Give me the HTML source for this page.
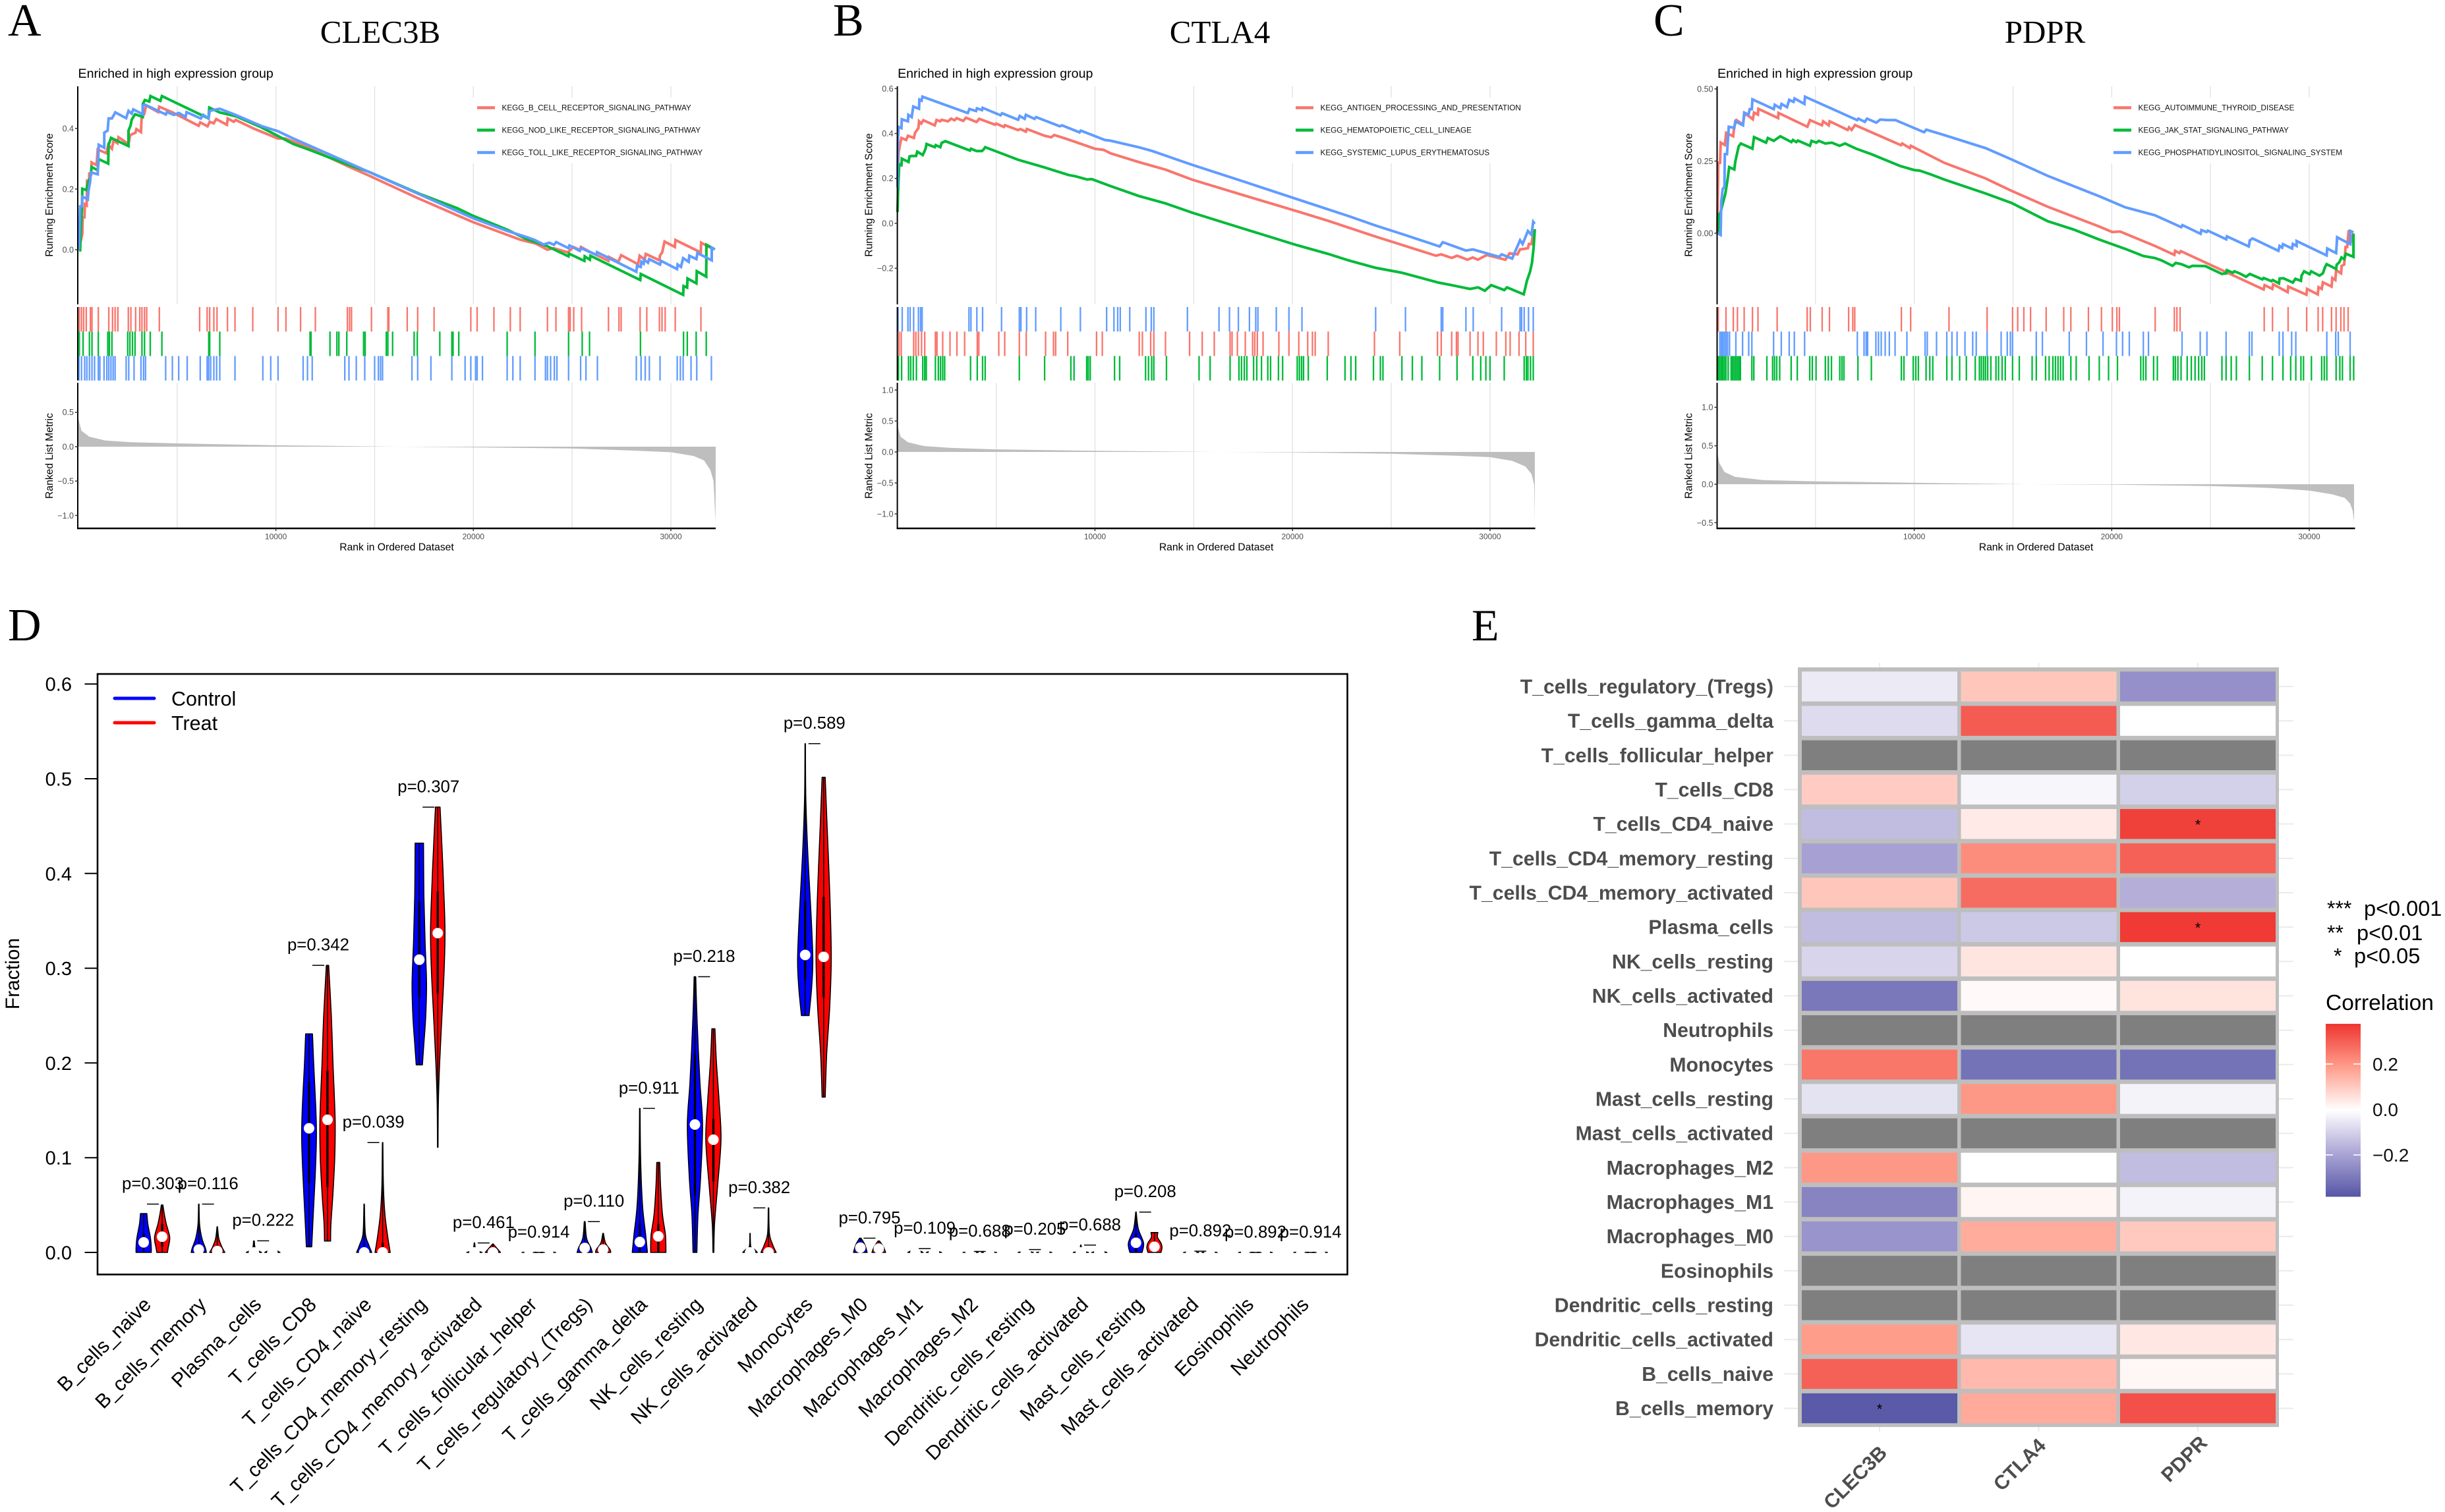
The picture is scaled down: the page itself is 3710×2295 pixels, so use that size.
<!DOCTYPE html>
<html lang="en">
<head>
<meta charset="utf-8">
<title>GSEA, immune cell violin plot and correlation heatmap</title>
<style>
html,body{margin:0;padding:0;background:#fff;}
svg{display:block;font-family:"Liberation Sans",Arial,sans-serif;}
.serif{font-family:"Liberation Serif","Times New Roman",serif;fill:#000;}
</style>
</head>
<body>
<svg id="figure" xmlns="http://www.w3.org/2000/svg" width="3710" height="2295" viewBox="0 0 3710 2295">
  <rect x="0" y="0" width="3710" height="2295" fill="#fff"/>
  <defs>
    <linearGradient id="corrGradient" x1="0" y1="0" x2="0" y2="1">
      <stop offset="0" stop-color="#ee3530"/>
      <stop offset="0.25" stop-color="#ff9d8b"/>
      <stop offset="0.5" stop-color="#ffffff"/>
      <stop offset="0.75" stop-color="#aba5d5"/>
      <stop offset="1" stop-color="#5656a6"/>
    </linearGradient>
  </defs>
  <text class="serif" x="12" y="54" font-size="70">A</text>
  <text class="serif" x="1264" y="54" font-size="70">B</text>
  <text class="serif" x="2509" y="54" font-size="70">C</text>
  <text class="serif" x="12" y="972" font-size="70">D</text>
  <text class="serif" x="2233" y="972" font-size="68">E</text>
  <text class="serif" x="577" y="65" font-size="49" text-anchor="middle">CLEC3B</text>
  <text class="serif" x="1851" y="65" font-size="49" text-anchor="middle">CTLA4</text>
  <text class="serif" x="3103" y="65" font-size="49" text-anchor="middle">PDPR</text>
  <g id="gsea"></g>
  <g id="violin"></g>
  <g id="heat"></g>
</svg>
<script>
/* ---------- GSEA data: [rank, running enrichment score] ---------- */
const esA1=[[20,0],[200,.052],[220,.107],[310,.107],[330,.15],[420,.146],[440,.226],[530,.222],[560,.255],[640,.244],[670,.288],[920,.279],[980,.331],[1420,.318],[1510,.346],[1700,.333],[1780,.36],[1980,.351],[2030,.371],[2540,.349],[2620,.378],[2890,.386],[2940,.398],[3170,.388],[3200,.433],[3340,.449],[3430,.476],[4040,.454],[4090,.472],[4760,.453],[6090,.409],[6170,.42],[6540,.407],[6650,.422],[6850,.417],[6980,.431],[7520,.412],[7560,.433],[7870,.422],[7960,.428],[8870,.4],[10100,.367],[10490,.367],[10880,.357],[11730,.335],[11990,.326],[13590,.277],[14660,.246],[17320,.166],[19980,.091],[22370,.033],[23170,.02],[23750,0],[24060,.005],[24780,-.009],[24890,-.002],[25060,.009],[25390,-.001],[25450,.009],[25950,-.009],[26840,-.037],[26860,-.024],[27340,-.04],[27480,-.018],[28340,-.048],[28420,-.02],[28670,-.033],[28730,-.014],[29420,-.035],[29450,-.019],[29560,-.009],[29680,.027],[30200,.009],[30230,.032],[31510,-.009],[31530,.023],[31790,.014],[32180,.001]];
const esA2=[[90,-.006],[110,.049],[180,.136],[200,.201],[400,.197],[530,.23],[600,.233],[670,.273],[980,.262],[1030,.299],[1510,.284],[1530,.346],[1650,.369],[2540,.342],[2540,.393],[2650,.411],[2700,.429],[2870,.447],[3260,.438],[3260,.48],[3370,.494],[3590,.489],[3650,.507],[4150,.491],[4230,.507],[6150,.447],[6590,.433],[6630,.469],[7150,.453],[7980,.44],[9260,.404],[10880,.349],[11730,.329],[13590,.282],[14660,.258],[17320,.183],[19180,.137],[19980,.112],[21710,.066],[22725,.034],[23725,.012],[24815,-.022],[24840,-.013],[25620,-.037],[25640,-.022],[25895,-.033],[25930,-.02],[28450,-.1],[28475,-.08],[30620,-.149],[30640,-.12],[30820,-.125],[30840,-.095],[31290,-.111],[31310,-.071],[31790,-.089],[31800,.016],[32010,.009],[32230,.001]];
const esA3=[[30,.001],[90,.143],[180,.143],[200,.175],[480,.166],[510,.193],[590,.222],[640,.255],[980,.249],[1030,.346],[1310,.336],[1310,.386],[1480,.393],[1530,.433],[1700,.433],[1870,.453],[2420,.434],[2540,.458],[2700,.449],[2780,.463],[3260,.447],[3260,.476],[3390,.478],[4430,.446],[4480,.454],[4840,.445],[5090,.451],[5430,.438],[5480,.454],[6200,.433],[6320,.445],[6590,.433],[6650,.458],[7150,.465],[7870,.447],[9320,.407],[10100,.391],[10880,.367],[12000,.335],[13590,.289],[14660,.258],[17320,.181],[19980,.104],[21710,.062],[22725,.041],[23110,.032],[23560,.017],[23840,.023],[24080,.016],[24190,.025],[24815,.005],[24860,.014],[25390,-.004],[25450,.005],[26230,-.017],[26260,-.008],[28250,-.073],[28285,-.053],[28475,-.057],[28510,-.04],[28620,-.046],[28650,-.033],[28840,-.043],[28900,-.031],[29450,-.049],[29510,-.037],[30310,-.064],[30340,-.049],[30510,-.057],[30620,-.028],[30900,-.04],[30930,-.02],[31290,-.031],[31340,-.011],[32070,-.035],[32070,.007],[32230,.001]];
const esB1=[[0,.2],[60,.317],[130,.351],[200,.38],[440,.371],[530,.39],[830,.38],[890,.403],[1060,.424],[1090,.454],[1200,.444],[1310,.459],[1890,.436],[1980,.46],[2170,.454],[2240,.461],[2560,.454],[2720,.466],[2890,.459],[3000,.468],[3330,.456],[3470,.47],[4000,.451],[4140,.465],[4940,.439],[5000,.444],[5390,.429],[5440,.437],[6110,.415],[6220,.42],[6500,.408],[6550,.42],[7440,.39],[7780,.383],[7940,.393],[8560,.376],[10000,.332],[10440,.327],[10780,.312],[12240,.272],[13570,.239],[14900,.195],[17560,.124],[20220,.054],[21810,.011],[24210,-.059],[25400,-.092],[27260,-.144],[27530,-.138],[28060,-.154],[28330,-.144],[28860,-.162],[29130,-.152],[29390,-.162],[29660,-.149],[29840,-.141],[30780,-.162],[30990,-.133],[31390,-.138],[31520,-.116],[31920,-.111],[31970,-.092],[32100,-.092],[32190,-.043],[32270,-.034]];
const esB2=[[0,.05],[30,.141],[90,.263],[200,.259],[220,.288],[560,.273],[610,.298],[720,.3],[940,.3],[1000,.319],[1280,.304],[1420,.332],[1470,.353],[1890,.339],[1940,.348],[2170,.339],[2240,.358],[2420,.366],[3670,.324],[3720,.332],[4000,.322],[4280,.322],[4390,.332],[4440,.339],[6110,.283],[7440,.249],[8670,.215],[9000,.21],[9610,.195],[9830,.197],[10780,.166],[12240,.121],[13570,.089],[14900,.048],[17560,-.025],[20220,-.097],[21810,-.136],[22880,-.166],[24210,-.198],[25540,-.22],[27400,-.264],[28060,-.275],[28990,-.292],[29400,-.285],[29740,-.3],[30060,-.275],[30720,-.297],[30860,-.285],[31710,-.316],[31870,-.256],[32030,-.215],[32130,-.174],[32210,-.108],[32270,-.026]];
const esB3=[[0,.16],[20,.366],[60,.429],[200,.424],[220,.463],[530,.454],[550,.483],[720,.473],[800,.52],[1090,.51],[1110,.551],[1220,.546],[1260,.564],[3560,.491],[3640,.509],[3980,.5],[4020,.512],[4280,.504],[4310,.514],[5220,.481],[5300,.49],[6110,.461],[6190,.478],[6440,.465],[6500,.483],[6940,.465],[7020,.473],[8220,.432],[8330,.436],[9220,.405],[9280,.413],[10500,.371],[10780,.368],[12240,.338],[12900,.322],[14900,.261],[17560,.185],[20220,.108],[22880,.031],[24210,-.01],[25670,-.051],[27450,-.103],[27610,-.084],[28780,-.121],[29130,-.116],[30460,-.149],[30590,-.138],[31120,-.157],[31520,-.075],[31650,-.092],[31920,-.034],[32100,-.051],[32190,.007],[32270,-.002]];
const esC1=[[30,0],[80,.244],[170,.244],[200,.314],[410,.306],[480,.348],[830,.336],[890,.37],[1000,.392],[1330,.377],[1390,.407],[1500,.412],[1830,.395],[1890,.418],[2090,.411],[2110,.431],[3110,.399],[3130,.417],[4590,.369],[4720,.392],[5330,.374],[5390,.388],[5670,.374],[5720,.388],[6630,.358],[6700,.367],[6830,.358],[7000,.375],[9330,.305],[9390,.311],[9780,.295],[9830,.303],[10830,.268],[11520,.244],[13610,.19],[14920,.147],[16750,.092],[19370,.023],[20030,.004],[20420,.006],[22190,-.044],[23170,-.075],[23210,-.061],[23430,-.069],[23500,-.062],[27690,-.195],[27740,-.18],[28130,-.193],[28170,-.177],[28910,-.204],[28940,-.185],[29860,-.213],[29890,-.193],[30430,-.212],[30470,-.187],[30630,-.193],[30690,-.17],[31130,-.185],[31170,-.155],[31320,-.162],[31360,-.128],[31610,-.139],[31640,-.113],[31770,-.109],[31840,-.048],[31920,-.048],[32000,.011],[32080,-.037],[32240,0]];
const esC2=[[60,0],[110,.07],[160,.062],[280,.096],[440,.138],[560,.191],[630,.229],[890,.221],[940,.248],[1110,.301],[1220,.311],[1810,.293],[1890,.333],[2500,.314],[2590,.33],[2890,.32],[3220,.336],[3780,.316],[3860,.323],[4030,.316],[4110,.321],[4720,.303],[4800,.32],[5050,.314],[5170,.32],[5500,.311],[5830,.314],[6220,.303],[6500,.311],[7060,.293],[7830,.274],[9280,.233],[10000,.219],[10280,.217],[10830,.204],[11520,.186],[13610,.138],[14920,.105],[16750,.042],[18060,.013],[19370,-.022],[20680,-.054],[21600,-.079],[22190,-.086],[22520,-.094],[23080,-.113],[23240,-.103],[23520,-.107],[23910,-.118],[24080,-.113],[24740,-.114],[25580,-.141],[25800,-.139],[25830,-.128],[26130,-.137],[26210,-.132],[26470,-.139],[26800,-.151],[26990,-.141],[27630,-.16],[27690,-.155],[28080,-.166],[28150,-.162],[28470,-.174],[28500,-.157],[28690,-.156],[29170,-.171],[29300,-.158],[29580,-.165],[29610,-.147],[29740,-.132],[30020,-.142],[30100,-.132],[30520,-.147],[30690,-.139],[30800,-.117],[30880,-.107],[31360,-.124],[31390,-.109],[31520,-.101],[31630,-.084],[31770,-.09],[31860,-.071],[32240,-.082],[32240,-.002]];
const esC3=[[60,0],[200,-.006],[230,.108],[300,.153],[390,.161],[410,.274],[520,.274],[610,.369],[890,.365],[940,.388],[1330,.374],[1390,.418],[1610,.411],[1670,.43],[1780,.43],[1810,.464],[2890,.43],[2940,.445],[3220,.433],[3280,.448],[3560,.437],[3670,.462],[3890,.455],[3940,.467],[4440,.448],[4470,.473],[7110,.392],[7170,.397],[7500,.386],[7610,.397],[8080,.383],[8280,.394],[8610,.392],[9050,.392],[9670,.374],[10500,.35],[10610,.359],[11520,.34],[13610,.295],[14920,.256],[16750,.199],[19370,.128],[20680,.09],[22190,.062],[23520,.021],[23580,.028],[24500,-.002],[24540,.011],[24800,.004],[24860,.009],[25800,-.021],[25830,-.011],[26940,-.046],[26990,-.025],[27130,-.018],[28440,-.061],[28500,-.044],[28630,-.05],[28670,-.038],[29130,-.053],[29170,-.037],[29360,-.044],[29360,-.027],[30880,-.077],[30910,-.053],[31360,-.069],[31410,-.014],[32080,-.038],[32080,.008],[32240,.003]];

/* ---------- GSEA hit ranks for the rug rows ---------- */
const rugA1=[50,160,270,400,610,690,1010,1540,1730,1860,2000,2530,2660,2900,3110,3220,3350,3460,4100,6140,6520,6650,6860,7020,7550,7930,8830,10110,10510,11250,12000,13620,13730,13830,14840,15670,15720,16650,17180,18010,19870,20190,21040,21870,22370,23750,24180,24820,24900,25080,25480,26840,27370,27480,28440,28780,29420,29550,29710,30220,31520];
const rugA2=[50,240,560,690,1010,1490,1570,1700,2500,2610,2740,2870,3220,3350,3640,4230,6600,6650,7160,11730,11780,12740,13090,13190,13590,14440,14520,15590,15670,15910,17000,17160,18300,18910,18970,19260,21710,23120,24820,25510,25880,28460,30640,30830,31280,31790];
const rugA3=[30,160,320,430,560,690,820,1010,1090,1300,1440,1540,1650,1760,1860,2420,2550,2820,3170,3300,3400,4420,4760,5080,5510,6170,6520,6600,6700,6860,7000,7160,7930,9340,9740,10110,11380,11600,11840,13490,13700,14070,14500,15000,15190,15300,15400,16890,17180,17850,18910,19580,19870,20110,20190,20460,21710,22000,22370,23120,23650,23750,23910,24100,24230,24820,25430,25700,26280,28250,28490,28700,28910,29450,30320,30480,30620,31020,31310,32050];
const rugB1=[80,190,820,930,1060,1220,1380,1920,2000,2290,2660,3010,3400,4040,4120,5130,5430,6170,6520,7500,7900,8010,8620,10080,10370,12240,12400,12820,12980,13570,14790,15430,16040,16840,16940,17210,17610,17980,18090,18220,18510,19310,19820,20320,20770,21010,21150,21810,24150,25430,27340,27530,28060,28300,28380,28990,29390,29660,30320,30800,31020,31470,31810,32190];
const rugB2=[50,210,560,670,800,960,1280,1380,1460,1920,2070,2180,2290,2390,3700,4040,4310,4440,6170,7450,8780,8940,9580,9660,9760,10990,11250,12560,12710,12870,12980,13620,15270,15830,16840,17290,17420,17560,17690,18030,18190,18430,18750,18890,19290,19500,20240,20350,20460,20560,20800,21760,22660,22960,23200,24100,24450,24580,25540,26070,26550,27450,28330,29130,29530,29790,30000,30720,31730,31840,31920,32050,32190];
const rugB3=[30,240,530,640,820,1060,1170,1250,3620,3720,4020,4310,5270,6170,6250,6540,7000,8270,9260,10590,10960,11150,11280,11760,12580,12850,12980,14680,16280,16810,17260,17820,18140,18250,19180,19820,20480,24210,25720,27530,27610,28780,29150,30590,31520,31600,31730,31950,32190];
const rugC1=[80,470,840,1050,1390,1810,2090,3060,4580,4740,5340,5710,6680,6890,6990,9350,9820,11760,13690,14980,15240,15550,15890,16680,17570,17930,18820,19480,20030,20260,20390,22200,23170,23300,23460,27720,28140,28930,29870,30450,30680,31130,31360,31600,31760,31970];
const rugC2=[80,160,240,310,390,470,580,730,810,890,970,1050,1130,1200,1780,1880,2540,2830,2930,3040,3190,3770,4080,4710,4840,5030,5500,5650,5810,6230,6340,6440,7150,7830,9350,9480,9950,10080,10210,10600,10790,10940,11650,11910,12300,12640,13090,13300,13400,13510,13610,13720,13880,14140,14270,14450,14610,14980,15320,15970,16180,16650,16830,17020,17150,17280,17410,17540,17930,18200,18850,19370,19840,20290,21470,21600,21730,22120,22310,23120,23220,23350,23510,23820,24030,24220,24400,24560,24690,25580,25790,26050,26310,26970,27620,28140,28670,29060,29320,29580,29710,30110,30630,30760,30890,31360,31550,31680,32070,32250];
const rugC3=[160,240,310,390,470,550,650,970,1310,1620,1780,2880,3270,3670,3930,4450,7120,7460,7570,7640,8060,8190,8330,8530,8740,9030,9630,10550,10660,11130,11650,11910,12170,12570,12960,13140,13690,14400,14710,14870,14980,16180,16490,17850,18720,19560,20240,20550,20890,21600,21860,23560,24480,24820,25790,26970,27100,28480,28670,29110,29320,30890,31340,31470,32070];

/* ---------- GSEA ranked metric: [rank, metric] ---------- */
const metricA=[[0,.41],[160,.23],[560,.145],[1360,.09],[2690,.065],[5000,.048],[10000,.02],[16250,0],[20000,-.01],[25000,-.027],[27960,-.055],[30000,-.08],[31150,-.135],[31680,-.2],[32000,-.34],[32160,-.5],[32260,-1.09]];
const metricB=[[0,.425],[160,.245],[530,.156],[1330,.096],[2660,.066],[5000,.042],[10000,.018],[16220,0],[20000,-.006],[25000,-.03],[28200,-.06],[30000,-.084],[31120,-.144],[31790,-.234],[32100,-.353],[32240,-.533],[32270,-1.13]];
const metricC=[[0,.447],[130,.279],[390,.159],[920,.096],[2360,.053],[5000,.038],[10000,.019],[15700,0],[20000,-.005],[25000,-.024],[28000,-.048],[30000,-.082],[31150,-.13],[31800,-.178],[32070,-.25],[32200,-.346],[32270,-.49]];

const rankTicks=[10000,20000,30000];
const rankGrid=[5000,10000,15000,20000,25000,30000];
const esTicksA=[0,.2,.4];
const esTicksB=[-.2,0,.2,.4,.6];
const esTicksC=[0,.25,.5];
const metricTicksA=[-1,-.5,0,.5];
const metricTicksB=[-1,-.5,0,.5,1];
const metricTicksC=[-.5,0,.5,1];
const namesA=["KEGG_B_CELL_RECEPTOR_SIGNALING_PATHWAY","KEGG_NOD_LIKE_RECEPTOR_SIGNALING_PATHWAY","KEGG_TOLL_LIKE_RECEPTOR_SIGNALING_PATHWAY"];
const namesB=["KEGG_ANTIGEN_PROCESSING_AND_PRESENTATION","KEGG_HEMATOPOIETIC_CELL_LINEAGE","KEGG_SYSTEMIC_LUPUS_ERYTHEMATOSUS"];
const namesC=["KEGG_AUTOIMMUNE_THYROID_DISEASE","KEGG_JAK_STAT_SIGNALING_PATHWAY","KEGG_PHOSPHATIDYLINOSITOL_SIGNALING_SYSTEM"];

/* ---------- Violin data ---------- */
const cellTypes=["B_cells_naive","B_cells_memory","Plasma_cells","T_cells_CD8","T_cells_CD4_naive","T_cells_CD4_memory_resting","T_cells_CD4_memory_activated","T_cells_follicular_helper","T_cells_regulatory_(Tregs)","T_cells_gamma_delta","NK_cells_resting","NK_cells_activated","Monocytes","Macrophages_M0","Macrophages_M1","Macrophages_M2","Dendritic_cells_resting","Dendritic_cells_activated","Mast_cells_resting","Mast_cells_activated","Eosinophils","Neutrophils"];
const pValues=["0.303","0.116","0.222","0.342","0.039","0.307","0.461","0.914","0.110","0.911","0.218","0.382","0.589","0.795","0.109","0.688","0.205","0.688","0.208","0.892","0.892","0.914"];
const groupTop=[.051,.051,.0123,.303,.116,.47,.01,0,.0325,.152,.291,.047,.537,.015,.004,.001,.003,.0077,.0426,.0013,0,0];
const controlMedian=[.0106,.003,0,.131,0,.309,0,0,.0047,.011,.135,0,.314,.005,0,0,0,0,.0102,0,0,0];
const treatMedian=[.0166,.0015,0,.14,0,.337,0,0,.003,.017,.119,0,.312,.004,0,0,0,0,.006,0,0,0];
const controlQ1=[.004,0,0,.073,0,.269,0,0,0,0,.06,0,.288,0,0,0,0,0,0,0,0,0];
const controlQ3=[.02,.008,0,.18,.004,.371,0,0,.01,.03,.21,0,.371,.006,0,0,0,0,.02,0,0,0];
const treatQ1=[.006,0,0,.069,0,.273,0,0,0,0,.075,0,.269,0,0,0,0,0,0,0,0,0];
const treatQ3=[.03,.004,0,.192,.01,.381,0,0,.006,.03,.141,.006,.375,.005,0,0,0,0,.012,0,0,0];
const controlDensity=[
 [[.041,.42],[.03,.55],[.015,.9],[.005,1],[0,1]],
 [[.051,.03],[.03,.1],[.015,.4],[.005,.85],[0,1]],
 [[.012,.04],[.004,.2],[0,1]],
 [[.2307,.45],[.2,.6],[.15,.9],[.12,.97],[.08,.8],[.04,.55],[.006,.35]],
 [[.051,.03],[.02,.15],[.008,.6],[0,1]],
 [[.432,.55],[.38,.6],[.33,.75],[.285,.95],[.25,.85],[.22,.6],[.198,.4]],
 [[.01,.03],[.003,.2],[0,1]],
 [[.001,.04],[0,1]],
 [[.0325,.05],[.015,.25],[.005,.8],[0,1]],
 [[.152,.03],[.1,.1],[.05,.35],[.02,.75],[0,1]],
 [[.291,.1],[.24,.3],[.18,.65],[.135,1],[.08,.75],[.04,.4],[0,.25]],
 [[.02,.02],[.006,.1],[.003,.6],[0,.95]],
 [[.537,.03],[.48,.08],[.42,.35],[.36,.75],[.31,1],[.28,.85],[.25,.5]],
 [[.015,.1],[.008,.6],[0,.9]],
 [[.004,.03],[0,1]],
 [[.001,.03],[0,1]],
 [[.002,.03],[0,1]],
 [[.0077,.03],[.002,.2],[0,1]],
 [[.0426,.03],[.025,.3],[.01,1],[0,.8]],
 [[.0013,.03],[0,1]],
 [[.001,.03],[0,1]],
 [[.001,.03],[0,1]]
];
const treatDensity=[
 [[.05,.1],[.04,.3],[.03,.55],[.016,1],[.005,.8],[0,.7]],
 [[.027,.03],[.015,.2],[.006,.6],[0,1]],
 [[.004,.04],[0,1]],
 [[.303,.15],[.25,.5],[.2,.72],[.14,1],[.1,.95],[.06,.7],[.03,.45],[.012,.4]],
 [[.116,.03],[.07,.1],[.04,.3],[.015,.7],[0,1]],
 [[.47,.3],[.42,.6],[.37,.85],[.337,.95],[.3,.85],[.25,.55],[.2,.25],[.16,.08],[.111,.03]],
 [[.009,.03],[0,1]],
 [[.001,.04],[0,1]],
 [[.02,.04],[.01,.3],[.003,.9],[0,1]],
 [[.095,.2],[.07,.3],[.04,.55],[.018,.95],[0,1]],
 [[.236,.2],[.2,.4],[.16,.75],[.119,1],[.07,.55],[.03,.15],[0,.05]],
 [[.047,.03],[.02,.12],[.008,.55],[0,1]],
 [[.5015,.2],[.45,.45],[.38,.8],[.312,1],[.26,.8],[.21,.4],[.164,.2]],
 [[.012,.1],[.006,.6],[0,.9]],
 [[.0025,.03],[0,1]],
 [[.001,.03],[0,1]],
 [[.0015,.03],[0,1]],
 [[.002,.03],[0,1]],
 [[.021,.45],[.016,.4],[.01,.85],[.005,1],[0,.85]],
 [[.001,.03],[0,1]],
 [[.001,.03],[0,1]],
 [[.001,.03],[0,1]]
];
const fractionTicks=[0,.1,.2,.3,.4,.5,.6];

/* ---------- Heatmap data (top row first; null = no correlation) ---------- */
const heatRows=["T_cells_regulatory_(Tregs)","T_cells_gamma_delta","T_cells_follicular_helper","T_cells_CD8","T_cells_CD4_naive","T_cells_CD4_memory_resting","T_cells_CD4_memory_activated","Plasma_cells","NK_cells_resting","NK_cells_activated","Neutrophils","Monocytes","Mast_cells_resting","Mast_cells_activated","Macrophages_M2","Macrophages_M1","Macrophages_M0","Eosinophils","Dendritic_cells_resting","Dendritic_cells_activated","B_cells_naive","B_cells_memory"];
const heatCols=["CLEC3B","CTLA4","PDPR"];
const corrClec3b=[-.045,-.075,null,.10,-.14,-.2,.11,-.14,-.09,-.30,null,.26,-.06,null,.2,-.27,-.23,null,null,.19,.30,-.37];
const corrCtla4=[.11,.31,null,-.02,.04,.22,.28,-.115,.05,.01,null,-.31,.2,null,0,.02,.16,null,null,-.055,.135,.165];
const corrPdpr=[-.24,0,null,-.1,.36,.30,-.17,.37,0,.055,null,-.31,-.025,null,-.14,-.025,.105,null,null,.045,.015,.33];
const sigClec3b=["","","","","","","","","","","","","","","","","","","","","","*"];
const sigCtla4=["","","","","","","","","","","","","","","","","","","","","",""];
const sigPdpr=["","","","","*","","","*","","","","","","","","","","","","","",""];
const corrTicks=[.2,0,-.2];
const sigLegendStars=["***","**","*"];
const sigLegendText=["p<0.001","p<0.01","p<0.05"];

/* ---------- Helpers ---------- */
const NS="http://www.w3.org/2000/svg";
function mk(parent,tag,attrs,text){
  const n=document.createElementNS(NS,tag);
  for(const k in attrs){n.setAttribute(k,attrs[k]);}
  if(text!==undefined){n.textContent=text;}
  parent.appendChild(n);
  return n;
}
function fmt(v,d){return (v<0?"\u2212":"")+Math.abs(v).toFixed(d);}

/* ---------- GSEA panels ---------- */
const RED="#F8766D",GREEN="#00BA38",BLUE="#619CFF";
function drawGsea(cfg){
  const root=document.getElementById("gsea");
  const g=mk(root,"g",{});
  
  
  const xOf=r=>cfg.x0+r*0.02997;
  const yEs=v=>cfg.esZero-v*cfg.esScale;
  const yMetric=v=>cfg.mZero-v*cfg.mScale;
  const right=cfg.left+968;
  let el;
  for(const r of rankGrid){
    el=mk(g,"line",{x1:xOf(r),x2:xOf(r),y1:131,y2:462,stroke:"#e6e6e6","stroke-width":1.6});
    
    
    el=mk(g,"line",{x1:xOf(r),x2:xOf(r),y1:581,y2:802,stroke:"#e6e6e6","stroke-width":1.6});
    
    
  }
  el=mk(g,"rect",{x:cfg.left+596,y:148,width:490,height:100,fill:"#fff"});
  
  
  el=mk(g,"text",{x:cfg.left+0.5,y:118,"font-size":19.6,fill:"#000"},"Enriched in high expression group");
  
  
  cfg.curves.forEach((c,i)=>{
    const pts=c.data.map(p=>xOf(p[0]).toFixed(1)+","+yEs(p[1]).toFixed(1)).join(" ");
    const line=mk(g,"polyline",{points:pts,fill:"none",stroke:c.color,"stroke-width":4,"stroke-linejoin":"miter"});
    
    
  });
  cfg.names.forEach((n,i)=>{
    const ly=163.5+i*34;
    const ll=mk(g,"line",{x1:cfg.left+cfg.legendX,x2:cfg.left+cfg.legendX+27,y1:ly,y2:ly,stroke:cfg.curves[i].color,"stroke-width":4.5});
    
    
    const lt=mk(g,"text",{x:cfg.left+cfg.legendX+37.5,y:ly+4.2,"font-size":11.72,fill:"#111"},n);
    
    
  });
  cfg.rugs.forEach((row,i)=>{
    const y1=466+i*37.2,y2=y1+37.2;
    row.ranks.forEach(r=>{
      const t=mk(g,"line",{x1:xOf(r),x2:xOf(r),y1:y1,y2:y2,stroke:row.color,"stroke-width":2.3});
      
      
    });
  });
  const zero=yMetric(0);
  const area=cfg.metric.map(p=>xOf(p[0]).toFixed(1)+","+yMetric(p[1]).toFixed(1));
  el=mk(g,"polygon",{points:xOf(0)+","+zero+" "+area.join(" ")+" "+xOf(32270)+","+zero,fill:"#bebebe"});
  
  
  [[131,462],[466,577.5],[581,803]].forEach(s=>{
    const a=mk(g,"line",{x1:cfg.left,x2:cfg.left,y1:s[0],y2:s[1],stroke:"#000","stroke-width":2});
    
    
  });
  el=mk(g,"line",{x1:cfg.left-1,x2:right,y1:802,y2:802,stroke:"#000","stroke-width":2.6});
  
  
  cfg.esTicks.forEach(v=>{
    const t=mk(g,"line",{x1:cfg.left-4,x2:cfg.left,y1:yEs(v),y2:yEs(v),stroke:"#333","stroke-width":1.5});
    
    
    const l=mk(g,"text",{x:cfg.left-6,y:yEs(v)+4.4,"font-size":12.5,"text-anchor":"end",fill:"#4d4d4d"},fmt(v,cfg.esDigits));
    
    
  });
  cfg.mTicks.forEach(v=>{
    const t=mk(g,"line",{x1:cfg.left-4,x2:cfg.left,y1:yMetric(v),y2:yMetric(v),stroke:"#333","stroke-width":1.5});
    
    
    const l=mk(g,"text",{x:cfg.left-6,y:yMetric(v)+4.4,"font-size":12.5,"text-anchor":"end",fill:"#4d4d4d"},fmt(v,1));
    
    
  });
  rankTicks.forEach(r=>{
    const t=mk(g,"line",{x1:xOf(r),x2:xOf(r),y1:802,y2:806,stroke:"#333","stroke-width":1.5});
    
    
    const l=mk(g,"text",{x:xOf(r),y:818.5,"font-size":12,"text-anchor":"middle",fill:"#4d4d4d"},String(r));
    
    
  });
  el=mk(g,"text",{x:(cfg.left+right)/2,y:835.5,"font-size":15.7,"text-anchor":"middle",fill:"#000"},"Rank in Ordered Dataset");
  
  
  const yx=cfg.left-38;
  el=mk(g,"text",{x:yx,y:296,"font-size":15.7,"text-anchor":"middle",fill:"#000",transform:"rotate(-90 "+yx+" 296)"},"Running Enrichment Score");
  
  
  el=mk(g,"text",{x:yx,y:692,"font-size":15.7,"text-anchor":"middle",fill:"#000",transform:"rotate(-90 "+yx+" 692)"},"Ranked List Metric");
  
  
}
drawGsea({id:"clec3b",left:118,x0:118.9,esZero:379,esScale:460,mZero:678,mScale:104.4,legendX:606,esDigits:1,esTicks:esTicksA,mTicks:metricTicksA,names:namesA,metric:metricA,
 curves:[{data:esA1,color:RED},{data:esA2,color:GREEN},{data:esA3,color:BLUE}],
 rugs:[{ranks:rugA1,color:RED},{ranks:rugA2,color:GREEN},{ranks:rugA3,color:BLUE}]});
drawGsea({id:"ctla4",left:1361.6,x0:1361.8,esZero:339,esScale:341,mZero:686,mScale:94,legendX:604.4,esDigits:1,esTicks:esTicksB,mTicks:metricTicksB,names:namesB,metric:metricB,
 curves:[{data:esB1,color:RED},{data:esB2,color:GREEN},{data:esB3,color:BLUE}],
 rugs:[{ranks:rugB3,color:BLUE},{ranks:rugB1,color:RED},{ranks:rugB2,color:GREEN}]});
drawGsea({id:"pdpr",left:2605.5,x0:2604.9,esZero:354,esScale:438,mZero:735,mScale:116.7,legendX:601.5,esDigits:2,esTicks:esTicksC,mTicks:metricTicksC,names:namesC,metric:metricC,
 curves:[{data:esC1,color:RED},{data:esC2,color:GREEN},{data:esC3,color:BLUE}],
 rugs:[{ranks:rugC1,color:RED},{ranks:rugC3,color:BLUE},{ranks:rugC2,color:GREEN}]});

/* ---------- Violin panel ---------- */
(function(){
  const g=document.getElementById("violin");
  const yOf=v=>1901-v*1438;
  const groupX=i=>232+i*83.65;
  const widthScale=11.5;
  let el;
  fractionTicks.forEach(v=>{
    const t=mk(g,"line",{x1:128.5,x2:148,y1:yOf(v),y2:yOf(v),stroke:"#000","stroke-width":2});
    
    
    const l=mk(g,"text",{x:109,y:yOf(v)+10.5,"font-size":29,"text-anchor":"end",fill:"#000"},v.toFixed(1));
    
    
  });
  el=mk(g,"text",{x:29,y:1478,"font-size":30,"text-anchor":"middle",fill:"#000",transform:"rotate(-90 29 1478)"},"Fraction");
  
  
  el=mk(g,"line",{x1:174,x2:234,y1:1060,y2:1060,stroke:"#0000ff","stroke-width":5,"stroke-linecap":"round"});
  
  
  el=mk(g,"line",{x1:174,x2:234,y1:1097,y2:1097,stroke:"#ff0000","stroke-width":5,"stroke-linecap":"round"});
  
  
  el=mk(g,"text",{x:260,y:1071,"font-size":30.5,fill:"#000"},"Control");
  
  
  el=mk(g,"text",{x:260,y:1108,"font-size":30.5,fill:"#000"},"Treat");
  
  
  function smoothSide(pts){
    let d="";
    for(let i=0;i<pts.length-1;i++){
      const p0=pts[Math.max(i-1,0)],p1=pts[i],p2=pts[i+1],p3=pts[Math.min(i+2,pts.length-1)];
      const c1x=p1[0]+(p2[0]-p0[0])/6,c1y=p1[1]+(p2[1]-p0[1])/6;
      const c2x=p2[0]-(p3[0]-p1[0])/6,c2y=p2[1]-(p3[1]-p1[1])/6;
      d+="C"+c1x.toFixed(1)+" "+c1y.toFixed(1)+" "+c2x.toFixed(1)+" "+c2y.toFixed(1)+" "+p2[0].toFixed(1)+" "+p2[1].toFixed(1);
    }
    return d;
  }
  function violin(cx,profile,median,q1,q3,color,name){
    const left=profile.map(p=>[cx-p[1]*widthScale,yOf(p[0])]);
    const rightSide=profile.slice().reverse().map(p=>[cx+p[1]*widthScale,yOf(p[0])]);
    const d="M"+left[0][0].toFixed(1)+" "+left[0][1].toFixed(1)+smoothSide(left)+"L"+rightSide[0][0].toFixed(1)+" "+rightSide[0][1].toFixed(1)+smoothSide(rightSide)+"Z";
    const shape=mk(g,"path",{d:d,fill:color,stroke:"#000","stroke-width":1.6,"stroke-linejoin":"round"});
    
    
    const top=profile[0][0],bottom=profile[profile.length-1][0];
    const wh=mk(g,"line",{x1:cx,x2:cx,y1:yOf(top),y2:yOf(bottom),stroke:"#000","stroke-width":1.6});
    
    
    if(q3>q1){
      const bx=mk(g,"line",{x1:cx,x2:cx,y1:yOf(q3),y2:yOf(q1),stroke:"#000","stroke-width":3.4});
      
      
    }
    const dot=mk(g,"circle",{cx:cx,cy:yOf(median),r:8,fill:"#fff"});
    
    
  }
  cellTypes.forEach((name,i)=>{
    const c=groupX(i);
    violin(c-14,controlDensity[i],controlMedian[i],controlQ1[i],controlQ3[i],"#0000ff","control-"+i);
    violin(c+14,treatDensity[i],treatMedian[i],treatQ1[i],treatQ3[i],"#ff0000","treat-"+i);
    const by=yOf(groupTop[i]);
    const br=mk(g,"line",{x1:c-9,x2:c+9,y1:by,y2:by,stroke:"#000","stroke-width":1.5});
    
    
    const pt=mk(g,"text",{x:c,y:by-22.6,"font-size":25.8,"text-anchor":"middle",fill:"#000"},"p="+pValues[i]);
    
    
    const lx=c-1,ly=1982;
    const tl=mk(g,"text",{x:lx,y:ly,"font-size":30.2,"text-anchor":"end",fill:"#000",transform:"rotate(-45 "+lx+" "+ly+")"},name);
    
    
  });
  el=mk(g,"rect",{x:148,y:1023,width:1896.5,height:911.5,fill:"none",stroke:"#000","stroke-width":2.6});
  
  
})();

/* ---------- Heatmap panel ---------- */
(function(){
  const g=document.getElementById("heat");
  const rowY=i=>1042+i*52.17;
  const colX=j=>2852+j*241.5;
  const corrData=[corrClec3b,corrCtla4,corrPdpr];
  const sigData=[sigClec3b,sigCtla4,sigPdpr];
  const mix=(a,b,t)=>a.map((v,k)=>Math.round(v+(b[k]-v)*t));
  function colorOf(v){
    if(v===null){return "#7f7f7f";}
    const t=Math.min(Math.abs(v)/0.38,1);
    const pos=[[255,255,255],[255,157,139],[238,53,48]];
    const neg=[[255,255,255],[171,165,213],[86,86,166]];
    const s=v>=0?pos:neg;
    const c=t<.5?mix(s[0],s[1],t*2):mix(s[1],s[2],(t-.5)*2);
    return "rgb("+c.join(",")+")";
  }
  let el;
  heatRows.forEach((n,i)=>{
    const t=mk(g,"line",{x1:2707,x2:3480,y1:rowY(i),y2:rowY(i),stroke:"#ebebeb","stroke-width":2});
    
    
    const l=mk(g,"text",{x:2691,y:rowY(i)+10.5,"font-size":30.2,"font-weight":"bold","text-anchor":"end",fill:"#4d4d4d"},n);
    
    
  });
  heatCols.forEach((n,j)=>{
    const t=mk(g,"line",{x1:colX(j),x2:colX(j),y1:1006,y2:2173,stroke:"#ebebeb","stroke-width":2});
    
    
  });
  el=mk(g,"rect",{x:2728,y:1013,width:730,height:1153,fill:"#bebebe"});
  
  
  heatRows.forEach((n,i)=>{
    heatCols.forEach((c,j)=>{
      const v=corrData[j][i];
      const cell=mk(g,"rect",{x:colX(j)-118,y:rowY(i)-22.7,width:236,height:45.4,fill:colorOf(v)});
      
      
      if(sigData[j][i]){
        const s=mk(g,"text",{x:colX(j),y:rowY(i)+9,"font-size":22,"text-anchor":"middle",fill:"#000"},sigData[j][i]);
        
        
      }
    });
  });
  const colAnchor=[[2865,2207],[3106,2196],[3351,2192]];
  heatCols.forEach((n,j)=>{
    const a=colAnchor[j];
    const l=mk(g,"text",{x:a[0],y:a[1],"font-size":30.2,"font-weight":"bold","text-anchor":"end",fill:"#4d4d4d",transform:"rotate(-45 "+a[0]+" "+a[1]+")"},n);
    
    
  });
  const starX=[3531,3531,3541];
  const textX=[3587,3576,3572];
  const sigY=[1390,1427,1462];
  sigLegendStars.forEach((s,i)=>{
    const a=mk(g,"text",{x:starX[i],y:sigY[i],"font-size":32,fill:"#000"},s);
    
    
    const b=mk(g,"text",{x:textX[i],y:sigY[i],"font-size":32.5,fill:"#000"},sigLegendText[i]);
    
    
  });
  el=mk(g,"text",{x:3529,y:1533,"font-size":33.5,fill:"#000"},"Correlation");
  
  
  el=mk(g,"rect",{x:3529,y:1554,width:53,height:262.5,fill:"url(#corrGradient)"});
  
  
  const yCorr=v=>1684-v*345;
  corrTicks.forEach(v=>{
    const a=mk(g,"line",{x1:3529,x2:3540,y1:yCorr(v),y2:yCorr(v),stroke:"#fff","stroke-width":1.6});
    
    
    const b=mk(g,"line",{x1:3571,x2:3582,y1:yCorr(v),y2:yCorr(v),stroke:"#fff","stroke-width":1.6});
    
    
    const l=mk(g,"text",{x:3600,y:yCorr(v)+10,"font-size":28,fill:"#111"},fmt(v,1));
    
    
  });
})();
</script>
</body>
</html>
